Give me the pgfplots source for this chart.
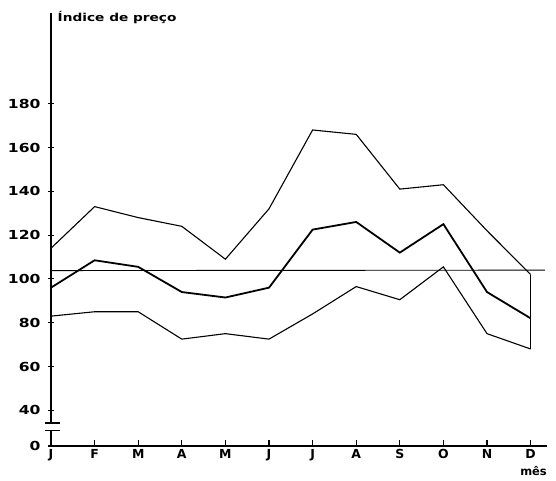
\documentclass[border=0pt]{standalone}
\usepackage{fontspec}
\usepackage{pgfplots}
\pgfplotsset{compat=1.18}
\newfontfamily\labfont[FakeStretch=1.25]{DejaVu Sans}
\newfontfamily\monfont{DejaVu Sans}
\begin{document}
\begin{tikzpicture}
\useasboundingbox (-51bp,-35bp) rectangle (505bp,446bp);
\begin{axis}[
  at={(0,0)}, anchor=south west,
  x=43.6bp, y=2.19bp,
  xmin=0, xmax=11.376, ymin=23.7, ymax=221.6,
  axis x line=bottom, axis y line=left,
  x axis line style={-, line width=1.8bp},
  y axis line style={draw=none},
  xtick={0,...,11},
  xticklabels={J,F,M,A,M,J,J,A,S,O,N,D},
  ytick={23.7,40,60,80,100,120,140,160,180},
  yticklabels={0,40,60,80,100,120,140,160,180},
  xtick align=inside, ytick align=center,
  major tick length=6bp,
  tick style={black, line width=1.1bp},
  /pgf/number format/assume math mode=true,
  yticklabel style={font=\labfont\bfseries\fontsize{12.5}{14}\selectfont, xshift=-4bp},
  xticklabel style={font=\monfont\bfseries\fontsize{12.5}{14}\selectfont},
  clip=false,
]
% y axis with break
\draw[line width=1.3bp] (axis cs:0,23.7) -- (axis cs:0,30.6);
\draw[line width=1.3bp] (axis cs:0,34.2) -- (axis cs:0,221.6);
\draw[line width=1.1bp] (axis cs:-0.14,30.6) -- (axis cs:0.2,30.6);
\draw[line width=1.1bp] (axis cs:-0.14,34.2) -- (axis cs:0.2,34.2);
% reference line
\addplot[black, line width=0.9bp] coordinates {(0,103.8) (11.33,104)};
% top series
\addplot[black, line width=1.1bp] coordinates {
(0,114) (1,133) (2,128) (3,124) (4,109) (5,132) (6,168) (7,166) (8,141) (9,143) (10,122) (11,102)};
% middle series
\addplot[black, line width=1.8bp] coordinates {
(0,96) (1,108.5) (2,105.5) (3,94) (4,91.5) (5,96) (6,122.5) (7,126) (8,112) (9,125) (10,94) (11,82)};
% bottom series
\addplot[black, line width=1.1bp] coordinates {
(0,83) (1,85) (2,85) (3,72.5) (4,75) (5,72.5) (6,84) (7,96.5) (8,90.5) (9,105.5) (10,75) (11,68)};
% December range
\addplot[black, line width=1bp] coordinates {(11,102) (11,68)};
\node[anchor=base west, inner sep=0pt, font=\labfont\bfseries\fontsize{11}{13}\selectfont]
  at (axis cs:0.15,221.6) [yshift=-9bp] {Índice de preço};
\node[anchor=north east, inner sep=0pt, font=\monfont\bfseries\fontsize{11.5}{13}\selectfont]
  at (axis cs:11.376,23.7) [yshift=-20bp] {mês};
\end{axis}
\end{tikzpicture}
\end{document}
